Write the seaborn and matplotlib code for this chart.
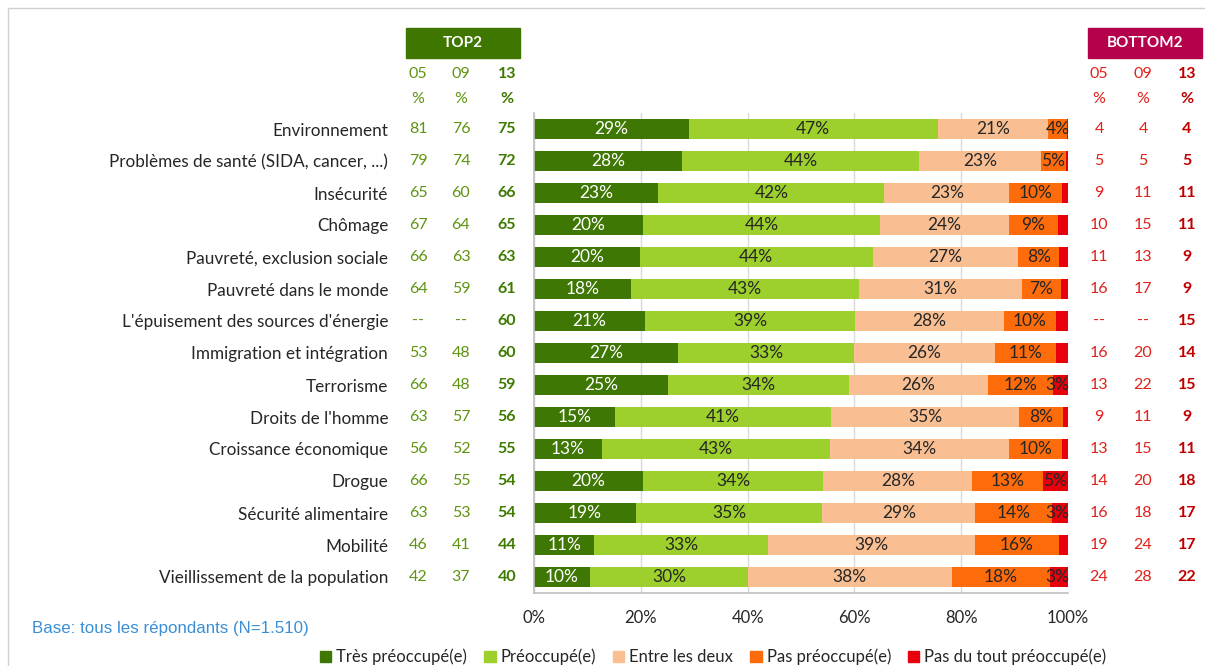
import pandas as pd
import matplotlib.pyplot as plt
import matplotlib.patches as mpatches
import seaborn as sns

sns.set_style('white')
plt.rcParams['font.family'] = ['Lato', 'DejaVu Sans']

categories = ['Environnement', 'Problèmes de santé (SIDA, cancer, ...)', 'Insécurité',
              'Chômage', 'Pauvreté, exclusion sociale', 'Pauvreté dans le monde',
              "L'épuisement des sources d'énergie", 'Immigration et intégration',
              'Terrorisme', "Droits de l'homme", 'Croissance économique', 'Drogue',
              'Sécurité alimentaire', 'Mobilité', 'Vieillissement de la population']

tres = [29.0, 27.8, 23.3, 20.4, 19.8, 18.2, 20.8, 27.0, 25.0, 15.1, 12.7, 20.4, 19.1, 11.3, 10.5]
preo = [46.6, 44.3, 42.3, 44.4, 43.6, 42.6, 39.3, 33.0, 34.0, 40.6, 42.7, 33.8, 34.9, 32.6, 29.6]
entre = [20.6, 22.8, 23.4, 24.1, 27.3, 30.6, 27.9, 26.3, 26.0, 35.2, 33.6, 27.9, 28.6, 38.6, 38.1]
pas = [3.6, 4.7, 9.8, 9.2, 7.6, 7.2, 9.7, 11.4, 12.2, 8.1, 9.8, 13.2, 14.4, 15.8, 18.4]
pas_du_tout = [0.2, 0.4, 1.2, 1.9, 1.7, 1.4, 2.3, 2.3, 2.8, 1.0, 1.2, 4.7, 3.0, 1.7, 3.4]

top05 = ['81', '79', '65', '67', '66', '64', '--', '53', '66', '63', '56', '66', '63', '46', '42']
top09 = ['76', '74', '60', '64', '63', '59', '--', '48', '48', '57', '52', '55', '53', '41', '37']
top13 = ['75', '72', '66', '65', '63', '61', '60', '60', '59', '56', '55', '54', '54', '44', '40']
bot05 = ['4', '5', '9', '10', '11', '16', '--', '16', '13', '9', '13', '14', '16', '19', '24']
bot09 = ['4', '5', '11', '15', '13', '17', '--', '20', '22', '11', '15', '20', '18', '24', '28']
bot13 = ['4', '5', '11', '11', '9', '9', '15', '14', '15', '9', '11', '18', '17', '17', '22']

series = ['Très préoccupé(e)', 'Préoccupé(e)', 'Entre les deux', 'Pas préoccupé(e)',
          'Pas du tout préoccupé(e)']
colors = ['#3e7703', '#9dd02d', '#f9bf93', '#fd6b0b', '#e8000c']

df = pd.DataFrame({'cat': categories, series[0]: tres, series[1]: preo, series[2]: entre,
                   series[3]: pas, series[4]: pas_du_tout})
cum = df[series].cumsum(axis=1)

fig = plt.figure(figsize=(12.05, 6.66), dpi=100)
ax = fig.add_axes([534 / 1205, 1 - 593 / 666, 534 / 1205, 480 / 666])

# stacked bars: draw cumulative totals from the widest down
for i in range(len(series) - 1, -1, -1):
    sns.barplot(x=cum[series[i]], y=df['cat'], color=colors[i], orient='h',
                width=0.6, saturation=1, linewidth=0, ax=ax, zorder=2)

# segment labels
for r in range(len(df)):
    for i, s in enumerate(series):
        v = df.loc[r, s]
        if round(v) < 3:
            continue
        xc = cum.loc[r, s] - v / 2
        if i == len(series) - 1:
            xc = min(xc, 100 - 2.0)
        ax.text(xc, r, f'{round(v)}%', ha='center', va='center', fontsize=12.5,
                color='white' if i == 0 else '#262626', zorder=3)

ax.set_xlim(0, 100)
ax.set_ylim(len(df) - 0.5, -0.5)
ax.set_xticks([0, 20, 40, 60, 80, 100])
ax.set_xticklabels(['0%', '20%', '40%', '60%', '80%', '100%'])
ax.set_xlabel('')
ax.set_ylabel('')
ax.grid(axis='x', color='#d9d9d9', linewidth=1, zorder=0)
ax.set_axisbelow(True)
for sp in ['top', 'right']:
    ax.spines[sp].set_visible(False)
for sp in ['left', 'bottom']:
    ax.spines[sp].set_color('#bfbfbf')
    ax.spines[sp].set_linewidth(1.2)
ax.tick_params(axis='y', length=0, pad=105, labelsize=12.3, labelcolor='#262626')
ax.tick_params(axis='x', length=0, pad=12, labelsize=12, labelcolor='#262626')

# TOP2 / BOTTOM2 columns
tr = ax.get_yaxis_transform()
top_x = [(418 - 534) / 534, (461 - 534) / 534, (507 - 534) / 534]
bot_x = [(1099 - 534) / 534, (1143 - 534) / 534, (1187 - 534) / 534]
for r in range(len(df)):
    for j, col in enumerate([top05, top09, top13]):
        ax.text(top_x[j], r, col[r], transform=tr, ha='center', va='center', fontsize=11.5,
                color='#3e7a00' if j == 2 else '#5f9410',
                fontweight='bold' if j == 2 else 'normal', clip_on=False)
    for j, col in enumerate([bot05, bot09, bot13]):
        ax.text(bot_x[j], r, col[r], transform=tr, ha='center', va='center', fontsize=11.5,
                color='#c00000' if j == 2 else '#e0201a',
                fontweight='bold' if j == 2 else 'normal', clip_on=False)

fig.patches.append(mpatches.Rectangle((406 / 1205, 1 - 58 / 666), 114 / 1205, 30 / 666,
                                      transform=fig.transFigure, color='#3e7600'))
fig.patches.append(mpatches.Rectangle((1088 / 1205, 1 - 58 / 666), 114 / 1205, 30 / 666,
                                      transform=fig.transFigure, color='#b5004b'))
fig.text(463 / 1205, 1 - 43 / 666, 'TOP2', ha='center', va='center', color='white',
         fontsize=11, fontweight='bold')
fig.text(1145 / 1205, 1 - 43 / 666, 'BOTTOM2', ha='center', va='center', color='white',
         fontsize=11, fontweight='bold')
for j, yr in enumerate(['05', '09', '13']):
    fig.text((418, 461, 507)[j] / 1205, 1 - 74 / 666, yr, ha='center', va='center',
             fontsize=11.5, color='#3e7a00' if j == 2 else '#5f9410',
             fontweight='bold' if j == 2 else 'normal')
    fig.text((418, 461, 507)[j] / 1205, 1 - 99 / 666, '%', ha='center', va='center',
             fontsize=11.5, color='#3e7a00' if j == 2 else '#5f9410',
             fontweight='bold' if j == 2 else 'normal')
    fig.text((1099, 1143, 1187)[j] / 1205, 1 - 74 / 666, yr, ha='center', va='center',
             fontsize=11.5, color='#c00000' if j == 2 else '#e0201a',
             fontweight='bold' if j == 2 else 'normal')
    fig.text((1099, 1143, 1187)[j] / 1205, 1 - 99 / 666, '%', ha='center', va='center',
             fontsize=11.5, color='#c00000' if j == 2 else '#e0201a',
             fontweight='bold' if j == 2 else 'normal')

# outer frame
fig.patches.append(mpatches.Rectangle((8 / 1205, -0.05), 1.1, 1 - 8 / 666 + 0.05,
                                      transform=fig.transFigure, fill=False,
                                      edgecolor='#d0d0d0', linewidth=1))

fig.text(32 / 1205, 1 - 629 / 666, 'Base: tous les répondants (N=1.510)', ha='left',
         va='center', fontsize=12.2, color='#3a8fd6', family='Liberation Sans')

handles = [mpatches.Patch(color=c, label=s) for c, s in zip(colors, series)]
fig.legend(handles=handles, loc='center', bbox_to_anchor=(713 / 1205, 1 - 657 / 666),
           ncol=5, frameon=False, fontsize=12, handlelength=0.7, handleheight=0.7,
           handletextpad=0.3, columnspacing=1.0, labelcolor='#262626')

fig.savefig('out.png', dpi=100)
